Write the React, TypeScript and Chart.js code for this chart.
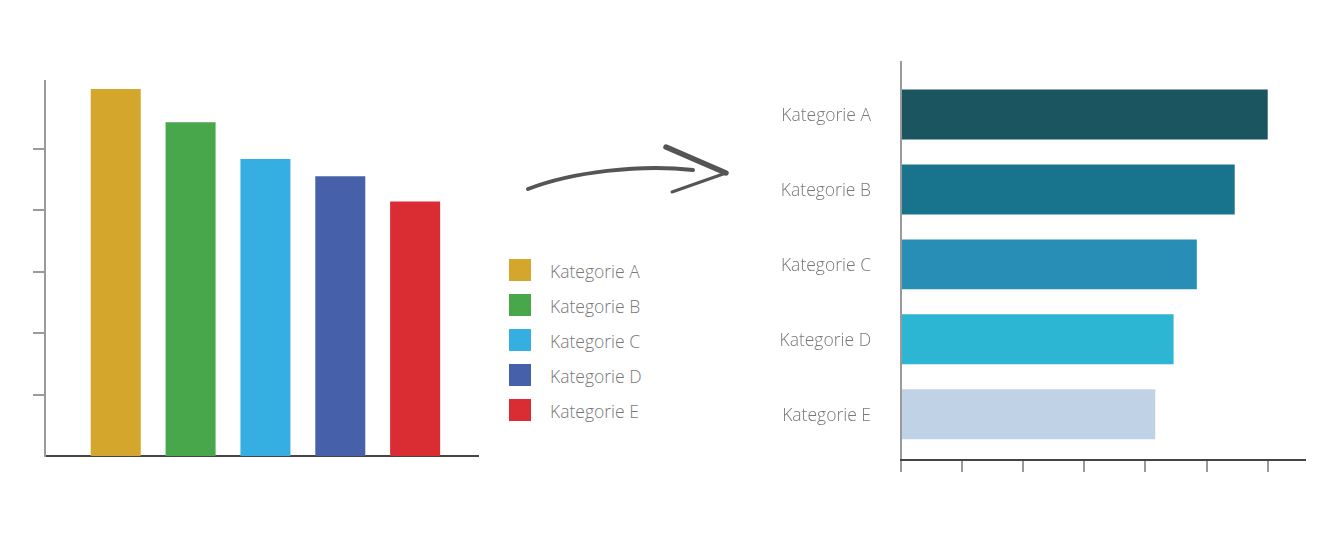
import React, { useEffect, useRef } from "react";
import { Chart, registerables } from "chart.js";

Chart.register(...registerables);

// ---- data ----
const categories = ["Kategorie A", "Kategorie B", "Kategorie C", "Kategorie D", "Kategorie E"];
const leftValues = [5.97, 5.43, 4.83, 4.55, 4.14];
const rightValues = [6.0, 5.46, 4.84, 4.46, 4.16];
const leftColors = ["#D4A72C", "#48A74A", "#35AFE1", "#4661A9", "#D92D33"];
const rightColors = ["#1B5560", "#18748C", "#288EB5", "#2DB6D3", "#C0D2E6"];

const FONT_FAMILY = "'Open Sans', 'Noto Sans', sans-serif";
const TEXT_COLOR = "#777777";
const LIGHT_AXIS = "#9a9a9a";
const DARK_AXIS = "#454545";

const keepIntegerTicks = (lo: number, hi: number) => (scale: any) => {
  scale.ticks = scale.ticks.filter(
    (t: any) => Number.isInteger(t.value) && t.value >= lo && t.value <= hi
  );
};

function LeftChart() {
  const ref = useRef<HTMLCanvasElement | null>(null);
  useEffect(() => {
    if (!ref.current) return;
    const chart = new Chart(ref.current, {
      type: "bar",
      data: {
        datasets: [
          {
            label: "Werte",
            data: categories.map((c, i) => ({ x: i + 1, y: leftValues[i] })) as any,
            backgroundColor: leftColors,
            borderWidth: 0,
            categoryPercentage: 1,
            barPercentage: 0.668,
          },
        ],
      },
      options: {
        animation: false,
        responsive: false,
        maintainAspectRatio: false,
        events: [],
        layout: { padding: { left: 33, right: 22, top: 81, bottom: 84 } },
        plugins: { legend: { display: false }, tooltip: { enabled: false } },
        scales: {
          x: {
            type: "linear",
            offset: false,
            min: 0.055,
            max: 5.84,
            afterBuildTicks: keepIntegerTicks(1, 5),
            ticks: { display: false, stepSize: 1, includeBounds: false },
            grid: { display: false, drawTicks: false, offset: false },
            border: { display: true, color: DARK_AXIS, width: 2 },
          },
          y: {
            type: "linear",
            min: 0,
            max: 6.1,
            afterBuildTicks: keepIntegerTicks(1, 5),
            ticks: { display: false, stepSize: 1, includeBounds: false },
            grid: {
              display: true,
              drawOnChartArea: false,
              drawTicks: true,
              tickLength: 12,
              color: LIGHT_AXIS,
              tickColor: LIGHT_AXIS,
              lineWidth: 2,
            },
            border: { display: true, color: LIGHT_AXIS, width: 2 },
          },
        },
      },
    } as any);
    return () => chart.destroy();
  }, []);
  return (
    <canvas
      ref={ref}
      width={500}
      height={540}
      style={{ position: "absolute", left: 0, top: 0, width: 500, height: 540 }}
    />
  );
}

function RightChart() {
  const ref = useRef<HTMLCanvasElement | null>(null);
  useEffect(() => {
    if (!ref.current) return;
    const chart = new Chart(ref.current, {
      type: "bar",
      data: {
        datasets: [
          {
            label: "Werte",
            data: categories.map((c, i) => ({ y: i + 1, x: rightValues[i] })) as any,
            backgroundColor: rightColors,
            borderWidth: 0,
            categoryPercentage: 1,
            barPercentage: 0.667,
          },
        ],
      },
      options: {
        indexAxis: "y",
        animation: false,
        responsive: false,
        maintainAspectRatio: false,
        events: [],
        layout: { padding: { left: 0, right: 16, top: 62, bottom: 68 } },
        plugins: { legend: { display: false }, tooltip: { enabled: false } },
        scales: {
          y: {
            type: "linear",
            offset: false,
            reverse: true,
            min: 0.3,
            max: 5.61,
            afterBuildTicks: keepIntegerTicks(1, categories.length),
            afterFit: (scale: any) => {
              scale.width = 161;
            },
            ticks: {
              stepSize: 1,
              includeBounds: false,
              padding: 30,
              labelOffset: 2,
              color: TEXT_COLOR,
              font: { family: FONT_FAMILY, size: 17.5, weight: "300" },
              callback: (v: any) => categories[Number(v) - 1] ?? "",
            },
            grid: { display: false, drawTicks: false, offset: false },
            border: { display: true, color: LIGHT_AXIS, width: 2 },
          },
          x: {
            type: "linear",
            min: 0,
            max: 6.61,
            afterBuildTicks: keepIntegerTicks(0, 6),
            ticks: { display: false, stepSize: 1, includeBounds: false },
            grid: {
              display: true,
              drawOnChartArea: false,
              drawTicks: true,
              tickLength: 12,
              color: LIGHT_AXIS,
              tickColor: LIGHT_AXIS,
              lineWidth: 2,
            },
            border: { display: true, color: DARK_AXIS, width: 2 },
          },
        },
      },
    } as any);
    return () => chart.destroy();
  }, []);
  return (
    <canvas
      ref={ref}
      width={581}
      height={540}
      style={{ position: "absolute", left: 740, top: 0, width: 581, height: 540 }}
    />
  );
}

function Legend() {
  return (
    <div style={{ position: "absolute", left: 0, top: 0 }}>
      {categories.map((c, i) => (
        <div key={c}>
          <div
            style={{
              position: "absolute",
              left: 509,
              top: 259 + i * 35,
              width: 22,
              height: 22,
              background: leftColors[i],
            }}
          />
          <div
            style={{
              position: "absolute",
              left: 550,
              top: 259 + i * 35 - 2,
              height: 28,
              lineHeight: "28px",
              fontFamily: FONT_FAMILY,
              fontWeight: 300,
              fontSize: 17.5,
              color: TEXT_COLOR,
              whiteSpace: "nowrap",
            }}
          >
            {c}
          </div>
        </div>
      ))}
    </div>
  );
}

function Arrow() {
  return (
    <svg
      width={1321}
      height={540}
      style={{ position: "absolute", left: 0, top: 0, pointerEvents: "none" }}
    >
      <path
        d="M528,189 C572,172 640,164 693,170"
        fill="none"
        stroke="#555555"
        strokeWidth={4}
        strokeLinecap="round"
      />
      <path
        d="M666,147 L726,173"
        fill="none"
        stroke="#555555"
        strokeWidth={5.5}
        strokeLinecap="round"
      />
      <path
        d="M726,173 L672,192"
        fill="none"
        stroke="#555555"
        strokeWidth={3}
        strokeLinecap="round"
      />
    </svg>
  );
}

export default function App() {
  return (
    <div
      style={{
        position: "absolute",
        left: 0,
        top: 0,
        width: 1321,
        height: 540,
        background: "#ffffff",
        overflow: "hidden",
      }}
    >
      <LeftChart />
      <Legend />
      <Arrow />
      <RightChart />
    </div>
  );
}
